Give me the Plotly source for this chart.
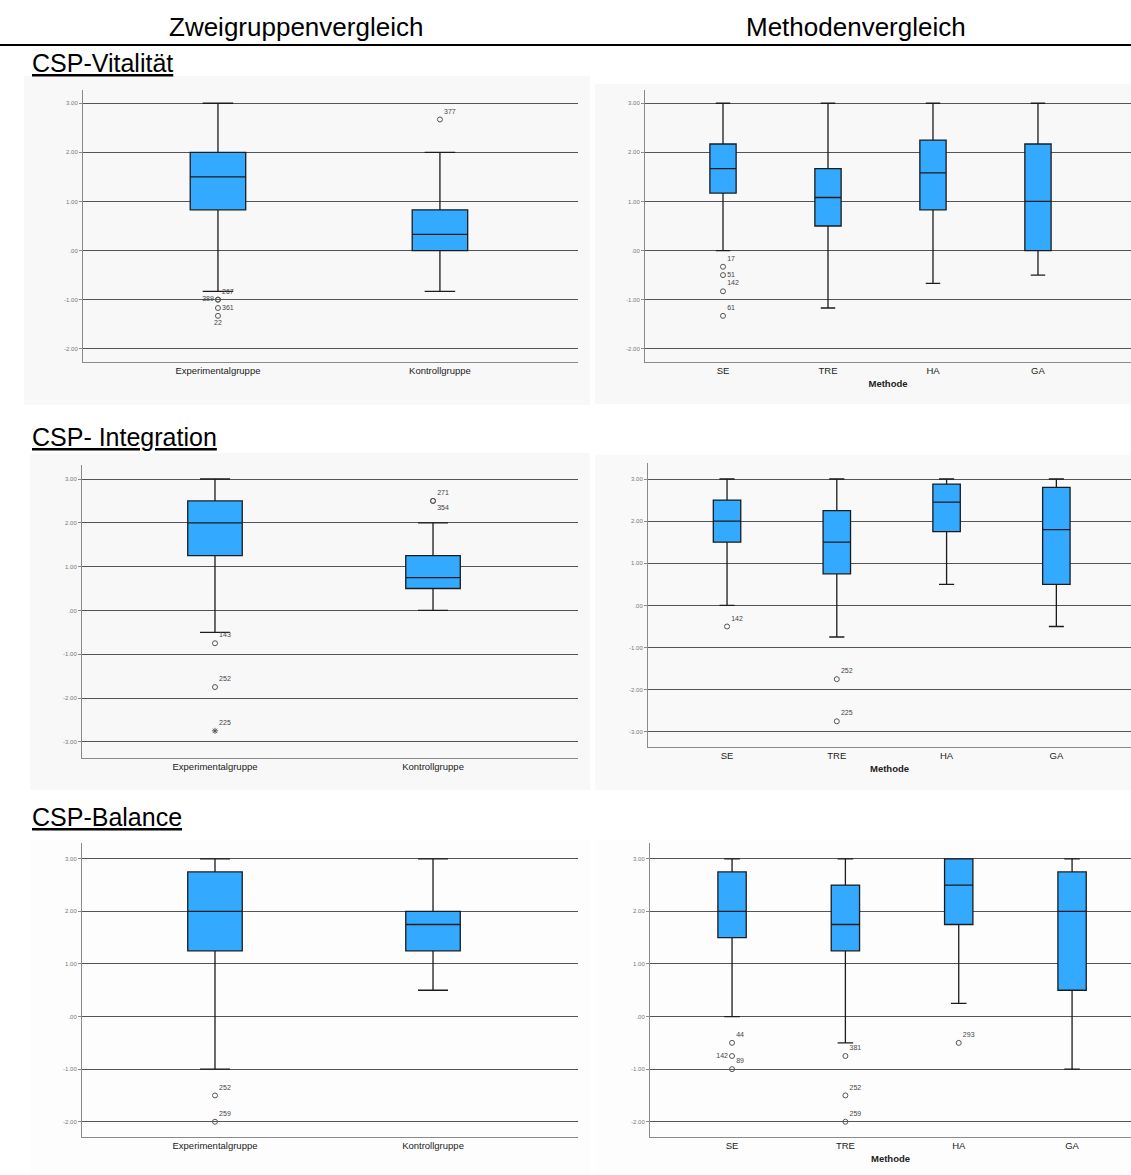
import plotly.graph_objects as go

W, H = 1131, 1175

# ---------------- data ----------------
groups = ["Experimentalgruppe", "Kontrollgruppe"]
methods = ["SE", "TRE", "HA", "GA"]

col_headers = ["Zweigruppenvergleich", "Methodenvergleich"]
row_titles = ["CSP-Vitalität", "CSP- Integration", "CSP-Balance"]
x_title_methods = "Methode"

# CSP-Vitalität – Zweigruppen
vit_grp_lower = [-0.83, -0.83]
vit_grp_q1 = [0.83, 0.00]
vit_grp_med = [1.50, 0.33]
vit_grp_q3 = [2.00, 0.83]
vit_grp_upper = [3.00, 2.00]
vit_grp_out_cat = ["Experimentalgruppe", "Experimentalgruppe", "Experimentalgruppe", "Experimentalgruppe", "Kontrollgruppe"]
vit_grp_out_val = [-1.00, -1.00, -1.17, -1.33, 2.67]
vit_grp_out_id = ["267", "389", "361", "22", "377"]

# CSP-Vitalität – Methoden
vit_met_lower = [0.00, -1.17, -0.67, -0.50]
vit_met_q1 = [1.17, 0.50, 0.83, 0.00]
vit_met_med = [1.67, 1.08, 1.58, 1.00]
vit_met_q3 = [2.17, 1.67, 2.25, 2.17]
vit_met_upper = [3.00, 3.00, 3.00, 3.00]
vit_met_out_cat = ["SE", "SE", "SE", "SE"]
vit_met_out_val = [-0.33, -0.50, -0.83, -1.33]
vit_met_out_id = ["17", "51", "142", "61"]

# CSP-Integration – Zweigruppen
int_grp_lower = [-0.50, 0.00]
int_grp_q1 = [1.25, 0.50]
int_grp_med = [2.00, 0.75]
int_grp_q3 = [2.50, 1.25]
int_grp_upper = [3.00, 2.00]
int_grp_out_cat = ["Experimentalgruppe", "Experimentalgruppe", "Kontrollgruppe", "Kontrollgruppe"]
int_grp_out_val = [-0.75, -1.75, 2.50, 2.50]
int_grp_out_id = ["143", "252", "271", "354"]
int_grp_ext_cat = ["Experimentalgruppe"]
int_grp_ext_val = [-2.75]
int_grp_ext_id = ["225"]

# CSP-Integration – Methoden
int_met_lower = [0.00, -0.75, 0.50, -0.50]
int_met_q1 = [1.50, 0.75, 1.75, 0.50]
int_met_med = [2.00, 1.50, 2.45, 1.80]
int_met_q3 = [2.50, 2.25, 2.88, 2.80]
int_met_upper = [3.00, 3.00, 3.00, 3.00]
int_met_out_cat = ["SE", "TRE", "TRE"]
int_met_out_val = [-0.50, -1.75, -2.75]
int_met_out_id = ["142", "252", "225"]

# CSP-Balance – Zweigruppen
bal_grp_lower = [-1.00, 0.50]
bal_grp_q1 = [1.25, 1.25]
bal_grp_med = [2.00, 1.75]
bal_grp_q3 = [2.75, 2.00]
bal_grp_upper = [3.00, 3.00]
bal_grp_out_cat = ["Experimentalgruppe", "Experimentalgruppe"]
bal_grp_out_val = [-1.50, -2.00]
bal_grp_out_id = ["252", "259"]

# CSP-Balance – Methoden
bal_met_lower = [0.00, -0.50, 0.25, -1.00]
bal_met_q1 = [1.50, 1.25, 1.75, 0.50]
bal_met_med = [2.00, 1.75, 2.50, 2.00]
bal_met_q3 = [2.75, 2.50, 3.00, 2.75]
bal_met_upper = [3.00, 3.00, 3.00, 3.00]
bal_met_out_cat = ["SE", "SE", "SE", "TRE", "TRE", "TRE", "HA"]
bal_met_out_val = [-0.50, -0.75, -1.00, -0.75, -1.50, -2.00, -0.50]
bal_met_out_id = ["44", "142", "89", "381", "252", "259", "293"]

vit_ticks = [3, 2, 1, 0, -1, -2]
vit_ticktext = ["3.00", "2.00", "1.00", ".00", "-1.00", "-2.00"]
int_ticks = [3, 2, 1, 0, -1, -2, -3]
int_ticktext = ["3.00", "2.00", "1.00", ".00", "-1.00", "-2.00", "-3.00"]
bal_ticks = [3, 2, 1, 0, -1, -2]
bal_ticktext = ["3.00", "2.00", "1.00", ".00", "-1.00", "-2.00"]

# ---------------- styling / layout helpers ----------------
BOX_FILL = "#33aaff"
BOX_LINE = "#1c1c1c"
GRID = "#555555"
AXL = "#8a8a8a"
FONT = "Liberation Sans, Arial, sans-serif"


def px_x(p):
    return p / W


def px_y(p):
    return 1 - p / H


# panel geometry in window pixels
panels = [
    dict(x0=83, x1=578, yt=90, yb=362, xr=[-0.608, 1.622], yr=[-2.27, 3.27]),
    dict(x0=645, x1=1131, yt=90, yb=362, xr=[-0.743, 3.886], yr=[-2.27, 3.27]),
    dict(x0=82, x1=578, yt=465, yb=758, xr=[-0.610, 1.665], yr=[-3.37, 3.32]),
    dict(x0=648, x1=1131, yt=463, yb=747, xr=[-0.72, 3.68], yr=[-3.36, 3.38]),
    dict(x0=82, x1=578, yt=843, yb=1137, xr=[-0.610, 1.665], yr=[-2.29, 3.30]),
    dict(x0=650, x1=1131, yt=843, yb=1137, xr=[-0.724, 3.52], yr=[-2.29, 3.30]),
]

panel_data = [
    (groups, vit_grp_lower, vit_grp_q1, vit_grp_med, vit_grp_q3, vit_grp_upper,
     vit_grp_out_cat, vit_grp_out_val, vit_grp_out_id, [], [], [], vit_ticks, vit_ticktext, False),
    (methods, vit_met_lower, vit_met_q1, vit_met_med, vit_met_q3, vit_met_upper,
     vit_met_out_cat, vit_met_out_val, vit_met_out_id, [], [], [], vit_ticks, vit_ticktext, True),
    (groups, int_grp_lower, int_grp_q1, int_grp_med, int_grp_q3, int_grp_upper,
     int_grp_out_cat, int_grp_out_val, int_grp_out_id, int_grp_ext_cat, int_grp_ext_val, int_grp_ext_id,
     int_ticks, int_ticktext, False),
    (methods, int_met_lower, int_met_q1, int_met_med, int_met_q3, int_met_upper,
     int_met_out_cat, int_met_out_val, int_met_out_id, [], [], [], int_ticks, int_ticktext, True),
    (groups, bal_grp_lower, bal_grp_q1, bal_grp_med, bal_grp_q3, bal_grp_upper,
     bal_grp_out_cat, bal_grp_out_val, bal_grp_out_id, [], [], [], bal_ticks, bal_ticktext, False),
    (methods, bal_met_lower, bal_met_q1, bal_met_med, bal_met_q3, bal_met_upper,
     bal_met_out_cat, bal_met_out_val, bal_met_out_id, [], [], [], bal_ticks, bal_ticktext, True),
]

# label placement for outlier ids (style only)
label_pos = {
    0: ["top right", "middle left", "middle right", "bottom center", "top right"],
    1: ["top right", "middle right", "top right", "top right"],
    2: ["top right", "top right", "top right", "bottom right"],
    3: ["top right", "top right", "top right"],
    4: ["top right", "top right"],
    5: ["top right", "middle left", "top right", "top right", "top right", "top right", "top right"],
}

fig = go.Figure()
layout = {}

for i, (g, pdata) in enumerate(zip(panels, panel_data)):
    (cats, lo, q1, med, q3, up, ocat, oval, oid, ecat, evals, eid, tv, tt, is_method) = pdata
    n = "" if i == 0 else str(i + 1)
    xa, ya = "x" + n, "y" + n
    fig.add_trace(go.Box(
        x=cats, q1=q1, median=med, q3=q3, lowerfence=lo, upperfence=up,
        xaxis=xa, yaxis=ya, width=0.25, whiskerwidth=0.55,
        fillcolor=BOX_FILL, line=dict(color=BOX_LINE, width=1.3),
        boxpoints=False, showlegend=False, hoverinfo="skip",
    ))
    fig.add_trace(go.Scatter(
        x=ocat, y=oval, mode="markers+text", text=oid,
        textposition=label_pos[i], xaxis=xa, yaxis=ya,
        marker=dict(symbol="circle-open", size=5, color="#555", line=dict(width=1)),
        textfont=dict(size=7, color="#444", family=FONT),
        showlegend=False, hoverinfo="skip", cliponaxis=False,
    ))
    if ecat:
        fig.add_trace(go.Scatter(
            x=ecat, y=evals, mode="markers+text", text=eid,
            textposition="top right", xaxis=xa, yaxis=ya,
            marker=dict(symbol="asterisk-open", size=5, color="#555", line=dict(width=1, color="#555")),
            textfont=dict(size=7, color="#444", family=FONT),
            showlegend=False, hoverinfo="skip", cliponaxis=False,
        ))
    layout["xaxis" + n] = dict(
        domain=[px_x(g["x0"]), min(1.0, px_x(g["x1"]))], anchor=ya, type="category",
        categoryorder="array", categoryarray=cats, range=g["xr"],
        showgrid=False, zeroline=False, showline=True, linecolor=AXL, linewidth=1,
        ticks="", tickfont=dict(size=9.5, color="#222", family=FONT),
        title=dict(text="<b>" + x_title_methods + "</b>" if is_method else "",
                   font=dict(size=9.5, color="#222", family=FONT), standoff=4),
    )
    layout["yaxis" + n] = dict(
        domain=[px_y(g["yb"]), px_y(g["yt"])], anchor=xa, range=g["yr"],
        tickvals=tv, ticktext=tt, showgrid=True, gridcolor=GRID, gridwidth=1.2,
        zeroline=False, showline=True, linecolor=AXL, linewidth=1,
        ticks="outside", ticklen=3, tickcolor=AXL,
        tickfont=dict(size=6, color="#777", family=FONT),
    )

# panel backgrounds
bg_rects = [
    (24, 590, 76, 405, "#f8f8f8"),
    (595, 1131, 84, 404, "#f8f8f8"),
    (30, 590, 453, 790, "#f8f8f8"),
    (595, 1131, 455, 790, "#f9f9f9"),
    (30, 590, 840, 1175, "#fdfdfd"),
    (595, 1131, 840, 1175, "#fdfdfd"),
]
shapes = []
for x0, x1, y0, y1, c in bg_rects:
    shapes.append(dict(type="rect", xref="paper", yref="paper",
                       x0=px_x(x0), x1=px_x(x1), y0=px_y(y1), y1=px_y(y0),
                       fillcolor=c, line=dict(width=0), layer="below"))
# header rule
shapes.append(dict(type="line", xref="paper", yref="paper",
                   x0=0, x1=1, y0=px_y(45), y1=px_y(45),
                   line=dict(color="black", width=2)))

annotations = []
for txt, cx in zip(col_headers, [296, 856]):
    annotations.append(dict(text=txt, x=px_x(cx), y=px_y(27), xref="paper", yref="paper",
                            xanchor="center", yanchor="middle", showarrow=False,
                            font=dict(size=26, color="black", family=FONT)))
for txt, cy in zip(row_titles, [63, 437, 817]):
    annotations.append(dict(text="<u>" + txt + "</u>", x=px_x(30), y=px_y(cy),
                            xref="paper", yref="paper", xanchor="left", yanchor="middle",
                            showarrow=False, font=dict(size=25, color="black", family=FONT)))

fig.update_layout(
    width=W, height=H, margin=dict(l=0, r=0, t=0, b=0),
    paper_bgcolor="white", plot_bgcolor="rgba(0,0,0,0)",
    shapes=shapes, annotations=annotations, showlegend=False,
    **layout,
)

fig.write_html(
    "out.html",
    config={"displayModeBar": False},
    post_script="document.body.style.margin='0px';document.body.style.overflow='hidden';",
)
